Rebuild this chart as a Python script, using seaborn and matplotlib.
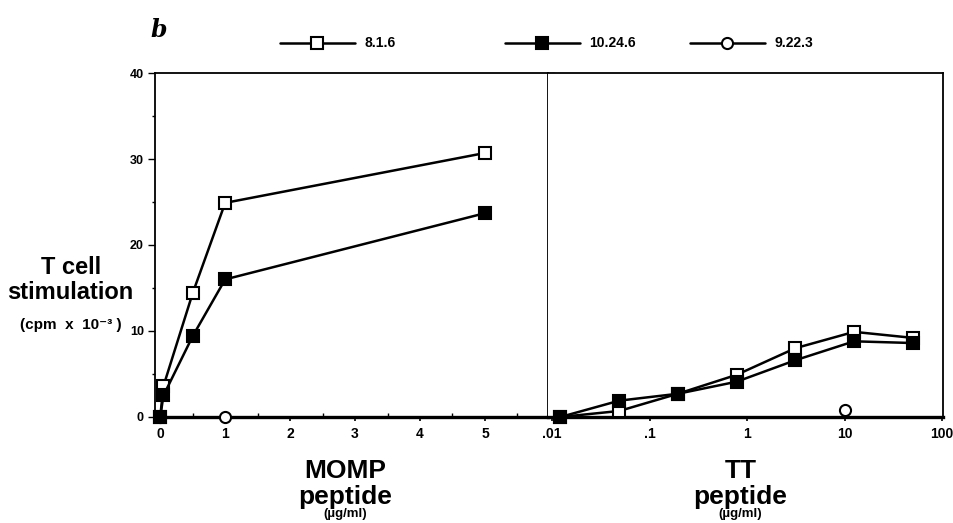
import numpy as np
import pandas as pd
import matplotlib
matplotlib.use("Agg")
import matplotlib.pyplot as plt
from matplotlib.lines import Line2D
from matplotlib.ticker import MultipleLocator, FixedLocator, NullLocator, FixedFormatter
import seaborn as sns

# MOMP peptide dose (ug/ml) and responses (cpm x 10^-3)
momp_dose = [0, 0.05, 0.5, 1, 5]
momp_816 = [0, 3.6, 14.4, 24.9, 30.7]
momp_10246 = [0, 2.5, 9.4, 16.0, 23.7]
momp_dose_9223 = [0, 1]
momp_9223 = [0, 0]

# TT peptide dose (4-fold dilutions, ug/ml)
tt_dose = [0.0122, 0.049, 0.195, 0.78, 3.125, 12.5, 50]
tt_816 = [0, 0.7, 2.7, 4.9, 8.0, 9.9, 9.2]
tt_10246 = [0, 1.9, 2.7, 4.1, 6.6, 8.8, 8.6]
tt_dose_9223 = [10]
tt_9223 = [0.8]

series = ["8.1.6", "10.24.6", "9.22.3"]
tt_ticks = [0.01, 0.1, 1, 10, 100]
tt_ticklabels = [".01", ".1", "1", "10", "100"]

sns.set_style("ticks")
plt.rcParams["font.family"] = ["Liberation Sans", "DejaVu Sans"]
plt.rcParams["text.color"] = "black"
plt.rcParams["xtick.color"] = "black"
plt.rcParams["ytick.color"] = "black"
plt.rcParams["axes.labelcolor"] = "black"

fig = plt.figure(figsize=(9.54, 5.23), dpi=100)
ax1 = fig.add_axes([0.1625, 0.2027, 0.4119, 0.6577])
ax2 = fig.add_axes([0.5744, 0.2027, 0.4141, 0.6577])

styles = {
    "8.1.6": dict(marker="s", markerfacecolor="white"),
    "10.24.6": dict(marker="s", markerfacecolor="black"),
    "9.22.3": dict(marker="o", markerfacecolor="white"),
}
common = dict(color="black", linewidth=1.8, markersize=8, markeredgewidth=1.5,
              markeredgecolor="black", clip_on=False, zorder=5)

left = {"8.1.6": (momp_dose, momp_816), "10.24.6": (momp_dose, momp_10246),
        "9.22.3": (momp_dose_9223, momp_9223)}
right = {"8.1.6": (tt_dose, tt_816), "10.24.6": (tt_dose, tt_10246),
         "9.22.3": (tt_dose_9223, tt_9223)}

for name in ["9.22.3", "8.1.6", "10.24.6"]:
    x, y = left[name]
    sns.lineplot(x=x, y=y, ax=ax1, legend=False, **styles[name], **common)
for name in ["9.22.3", "8.1.6", "10.24.6"]:
    x, y = right[name]
    sns.lineplot(x=x, y=y, ax=ax2, legend=False, **styles[name], **common)

# left panel
ax1.set_xlim(-0.08, 5.97)
ax1.set_ylim(0, 40)
ax1.xaxis.set_major_locator(MultipleLocator(1))
ax1.xaxis.set_minor_locator(MultipleLocator(0.5))
ax1.yaxis.set_major_locator(MultipleLocator(10))
ax1.yaxis.set_minor_locator(MultipleLocator(5))
ax1.tick_params(axis="x", which="major", direction="out", length=3, width=1.2,
                labelsize=10, pad=4)
ax1.tick_params(axis="x", which="minor", direction="in", length=3, width=1)
ax1.tick_params(axis="y", which="major", direction="out", length=5, width=1,
                labelsize=9, pad=3, right=True)
ax1.tick_params(axis="y", which="minor", direction="out", length=2, width=1, right=False)
for lab in ax1.get_yticklabels() + ax1.get_xticklabels():
    lab.set_fontweight("bold")
ax1.set_xlabel("")
ax1.set_ylabel("")

# right panel
ax2.set_xscale("log")
ax2.set_xlim(0.0091, 102)
ax2.set_ylim(0, 40)
ax2.xaxis.set_major_locator(FixedLocator(tt_ticks))
ax2.xaxis.set_major_formatter(FixedFormatter(tt_ticklabels))
ax2.xaxis.set_minor_locator(NullLocator())
ax2.tick_params(axis="x", which="major", direction="out", length=3, width=1.2,
                labelsize=10, pad=4)
ax2.set_yticks([])
for lab in ax2.get_xticklabels():
    lab.set_fontweight("bold")
ax2.set_xlabel("")
ax2.set_ylabel("")

for ax in (ax1, ax2):
    for side in ["top", "right", "left"]:
        ax.spines[side].set_visible(True)
        ax.spines[side].set_linewidth(1.3)
        ax.spines[side].set_color("black")
    ax.spines["bottom"].set_linewidth(2.4)
    ax.spines["bottom"].set_color("black")
ax2.spines["left"].set_visible(False)

# legend entries at the top, one per series
legend_x = [0.2935, 0.529, 0.723]
for name, lx in zip(series, legend_x):
    h = Line2D([], [], **styles[name], color="black", linewidth=1.8, markersize=8,
               markeredgewidth=1.5, markeredgecolor="black")
    fig.legend([h], [name], loc="center left", bbox_to_anchor=(lx, 0.917),
               frameon=False, handlelength=5.4, handletextpad=0.7, borderpad=0,
               borderaxespad=0, prop={"weight": "bold", "size": 10})

# panel letter
fig.text(0.158, 0.943, "b", fontsize=17, fontweight="bold", fontstyle="italic",
         family="DejaVu Serif", ha="left", va="center")

# y label
fig.text(0.074, 0.489, "T cell", fontsize=17, fontweight="bold", ha="center", va="center")
fig.text(0.074, 0.440, "stimulation", fontsize=17, fontweight="bold", ha="center", va="center")
fig.text(0.074, 0.378, "(cpm  x  10\u207b\u00b3 )", fontsize=11, fontweight="bold",
         ha="center", va="center", family=["Liberation Sans", "DejaVu Sans"])

# x labels
for xc, top in [(0.362, "MOMP"), (0.776, "TT")]:
    fig.text(xc, 0.099, top, fontsize=19, fontweight="bold", ha="center", va="center")
    fig.text(xc, 0.050, "peptide", fontsize=19, fontweight="bold", ha="center", va="center")
    fig.text(xc, 0.017, "(\u00b5g/ml)", fontsize=9.5, fontweight="bold", ha="center", va="center")

fig.savefig("out.png", dpi=100)
